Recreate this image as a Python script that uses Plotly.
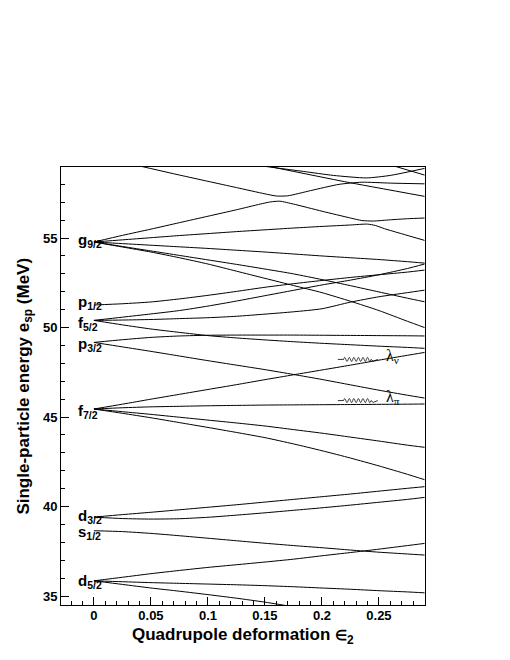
import numpy as np
import plotly.graph_objects as go

# ---------------- data ----------------
EPS = [0, 0.025, 0.05, 0.075, 0.1, 0.125, 0.15, 0.175, 0.2, 0.225, 0.25, 0.275, 0.29]

d52_up   = [35.85, 36.05, 36.25, 36.43, 36.60, 36.75, 36.90, 37.06, 37.25, 37.43, 37.62, 37.82, 37.94]
d52_mid  = [35.85, 35.80, 35.75, 35.71, 35.67, 35.63, 35.58, 35.52, 35.45, 35.38, 35.30, 35.23, 35.18]
d52_down = [35.85, 35.65, 35.45, 35.27, 35.08, 34.88, 34.66, 34.40, 34.15, 33.90, 33.65, 33.40, 33.25]
s12      = [38.65, 38.60, 38.50, 38.37, 38.23, 38.09, 37.95, 37.82, 37.70, 37.57, 37.45, 37.35, 37.29]
d32_low  = [39.41, 39.33, 39.30, 39.32, 39.40, 39.52, 39.65, 39.79, 39.93, 40.08, 40.24, 40.40, 40.51]
d32_up   = [39.41, 39.55, 39.68, 39.82, 39.96, 40.10, 40.25, 40.40, 40.55, 40.70, 40.86, 41.02, 41.11]
f72_dn2  = [45.45, 45.21, 44.96, 44.69, 44.42, 44.14, 43.85, 43.50, 43.12, 42.71, 42.27, 41.80, 41.50]
f72_dn1  = [45.45, 45.30, 45.15, 44.99, 44.83, 44.67, 44.50, 44.30, 44.10, 43.88, 43.66, 43.43, 43.31]
f72_flat = [45.45, 45.52, 45.57, 45.60, 45.63, 45.65, 45.67, 45.68, 45.69, 45.70, 45.71, 45.72, 45.73]
f72_up   = [45.45, 45.72, 46.00, 46.27, 46.54, 46.81, 47.09, 47.36, 47.63, 47.90, 48.18, 48.45, 48.61]
p32_dn   = [49.17, 48.92, 48.67, 48.41, 48.15, 47.90, 47.65, 47.38, 47.10, 46.80, 46.50, 46.22, 46.06]
p32_up   = [49.17, 49.32, 49.45, 49.53, 49.57, 49.58, 49.58, 49.58, 49.57, 49.56, 49.55, 49.54, 49.53]
f52_dn   = [50.40, 50.15, 49.92, 49.73, 49.55, 49.42, 49.31, 49.21, 49.12, 49.04, 48.96, 48.89, 48.84]
f52_up1  = [50.40, 50.42, 50.45, 50.50, 50.55, 50.63, 50.75, 50.88, 51.05, 51.42, 51.72, 51.95, 52.09]
f52_up2  = [50.40, 50.58, 50.76, 50.95, 51.20, 51.48, 51.78, 52.08, 52.38, 52.65, 52.95, 53.30, 53.55]
p12      = [51.26, 51.33, 51.43, 51.60, 51.80, 52.02, 52.25, 52.45, 52.63, 52.80, 52.95, 53.10, 53.21]
g92_a    = [54.78, 54.69, 54.60, 54.51, 54.42, 54.32, 54.22, 54.11, 54.00, 53.90, 53.80, 53.68, 53.60]
g92_b    = [54.78, 54.53, 54.28, 54.03, 53.78, 53.53, 53.27, 53.00, 52.68, 52.34, 51.99, 51.64, 51.44]
g92_c    = [54.78, 54.50, 54.22, 53.90, 53.55, 53.15, 52.75, 52.35, 51.95, 51.47, 50.95, 50.35, 50.00]

g92_low_eps = [0, 0.025, 0.05, 0.075, 0.1, 0.125, 0.15, 0.175, 0.2, 0.225, 0.24, 0.247, 0.255, 0.27, 0.29]
g92_low     = [54.78, 54.90, 55.02, 55.14, 55.25, 55.36, 55.46, 55.56, 55.65, 55.73, 55.78, 55.70, 55.52, 55.24, 54.87]

g92_up_eps = [0, 0.025, 0.05, 0.075, 0.1, 0.125, 0.146, 0.155, 0.163, 0.175, 0.2, 0.225, 0.235, 0.245, 0.26, 0.275, 0.29]
g92_up     = [54.78, 55.15, 55.50, 55.86, 56.22, 56.58, 56.90, 57.02, 57.06, 56.90, 56.50, 56.12, 55.98, 55.95, 56.02, 56.08, 56.12]

intr1_eps = [0.035, 0.075, 0.1, 0.125, 0.15, 0.16, 0.17, 0.19, 0.215, 0.235, 0.26, 0.29]
intr1     = [59.10, 58.52, 58.17, 57.82, 57.47, 57.35, 57.36, 57.65, 58.00, 58.12, 58.07, 58.03]
intr2_eps = [0.145, 0.16, 0.184, 0.21, 0.239, 0.26, 0.29]
intr2     = [59.05, 58.92, 58.72, 58.50, 58.36, 58.50, 58.89]
intr3_eps = [0.150, 0.22, 0.29]
intr3     = [59.05, 58.15, 57.33]
intr4_eps = [0.262, 0.29]
intr4     = [59.05, 58.52]

level_names = ["g", "p", "f", "p", "f", "d", "s", "d"]
level_j     = ["9/2", "1/2", "5/2", "3/2", "7/2", "3/2", "1/2", "5/2"]
level_E     = [54.78, 51.26, 50.40, 49.17, 45.45, 39.41, 38.65, 35.85]

lambda_nu = 48.22
lambda_pi = 45.92

# ---------------- figure ----------------
fig = go.Figure()
lstyle = dict(color="black", width=1, shape="spline", smoothing=0.6)

simple = [d52_up, d52_mid, d52_down, s12, d32_low, d32_up, f72_dn2, f72_dn1,
          f72_flat, f72_up, p32_dn, p32_up, f52_dn, f52_up1, f52_up2, p12,
          g92_a, g92_b, g92_c]
for E in simple:
    fig.add_trace(go.Scatter(x=EPS, y=E, mode="lines", line=lstyle))
for ex, E in [(g92_low_eps, g92_low), (g92_up_eps, g92_up), (intr1_eps, intr1),
              (intr2_eps, intr2), (intr3_eps, intr3), (intr4_eps, intr4)]:
    fig.add_trace(go.Scatter(x=ex, y=E, mode="lines", line=lstyle))

# level labels (vertical nudges in pixels, layout only)
label_nudge = [2, 3, -3, -2, -2, 1, -2, -1]
lab_font = dict(family="Liberation Sans", size=15, color="black", weight="bold")
for n, j, E, dy in zip(level_names, level_j, level_E, label_nudge):
    fig.add_annotation(x=-0.0155, y=E, xref="x", yref="y", xanchor="left", yanchor="middle",
                       text=f"{n}<sub>{j}</sub>", showarrow=False, font=lab_font, yshift=dy)

# Fermi levels: wavy markers
def wavy(yv):
    xs = np.linspace(0.219, 0.243, 97)
    ys = yv + 0.11 * np.sin(2 * np.pi * 6 * (xs - 0.219) / 0.024)
    pts = [(0.214, yv), (0.219, yv)] + list(zip(xs, ys)) + [(0.245, yv - 0.1), (0.249, yv)]
    return "M " + " L ".join(f"{a:.5f},{b:.4f}" for a, b in pts)

for lam, sub in [(lambda_nu, "ν"), (lambda_pi, "π")]:
    fig.add_shape(type="path", path=wavy(lam), xref="x", yref="y",
                  line=dict(color="black", width=0.8))
    fig.add_annotation(x=0.254, y=lam, xref="x", yref="y", xanchor="left", yanchor="middle",
                       text=f"λ<sub>{sub}</sub>", showarrow=False,
                       font=dict(family="Liberation Serif", size=16, color="black"), yshift=3)

# axis titles
title_font = dict(family="Liberation Sans", size=17, color="black", weight="bold")
fig.add_annotation(x=-0.100, y=0.5, xref="paper", yref="paper", textangle=-90,
                   xanchor="center", yanchor="middle", showarrow=False,
                   text="Single-particle energy e<sub>sp</sub> (MeV)", font=title_font)
fig.add_annotation(x=0.5, y=-0.071, xref="paper", yref="paper",
                   xanchor="center", yanchor="middle", showarrow=False,
                   text="Quadrupole deformation <span style='font-size:14px'>∈</span><sub>2</sub>",
                   font=title_font)

tick_font = dict(family="Liberation Sans", size=13, color="black", weight="bold")
fig.update_xaxes(range=[-0.0289, 0.2904], dtick=0.05, tick0=0, ticks="inside", ticklen=8,
                 tickwidth=1, tickcolor="black", showline=True, linecolor="black",
                 linewidth=1, mirror=True, showgrid=False, zeroline=False,
                 tickfont=tick_font, ticklabelstandoff=-2,
                 minor=dict(dtick=0.01, tick0=0, ticks="inside", ticklen=4,
                            tickcolor="black", showgrid=False))
fig.update_yaxes(range=[34.5, 58.97], dtick=5, tick0=0, ticks="inside", ticklen=8,
                 tickwidth=1, tickcolor="black", showline=True, linecolor="black",
                 linewidth=1, mirror=True, showgrid=False, zeroline=False,
                 tickfont=tick_font,
                 minor=dict(dtick=1, tick0=0, ticks="inside", ticklen=4,
                            tickcolor="black", showgrid=False))
fig.update_layout(width=510, height=660, showlegend=False,
                  margin=dict(l=53, r=93, t=159, b=63),
                  plot_bgcolor="white", paper_bgcolor="white")
fig.write_html("out.html")
